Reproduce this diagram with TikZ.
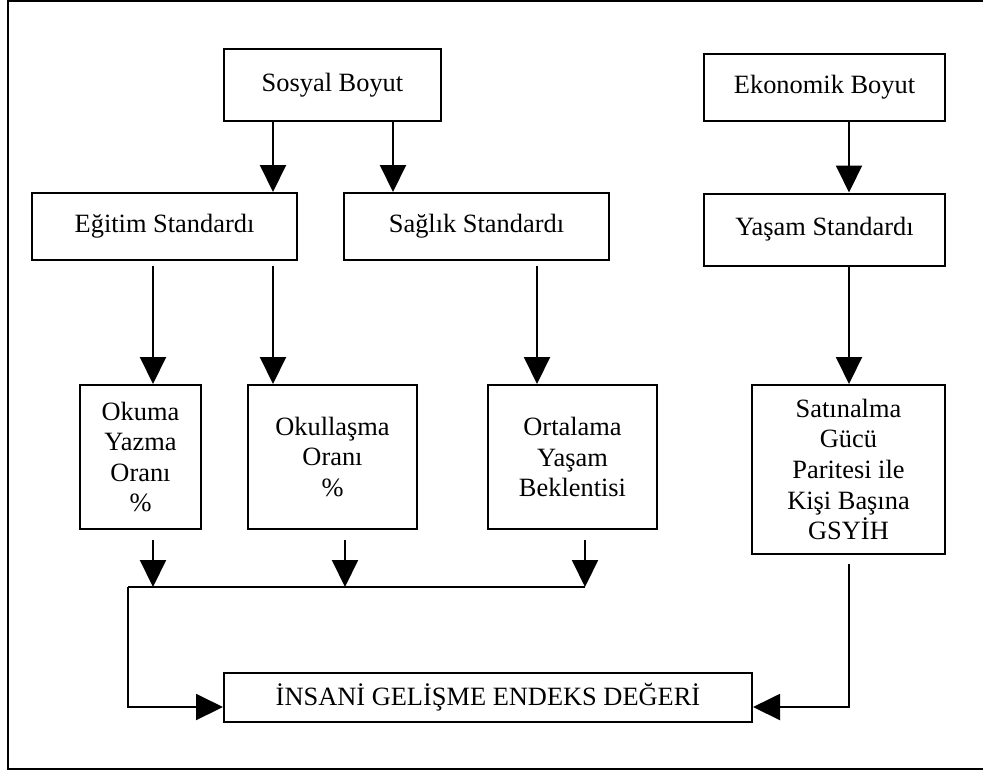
\documentclass[tikz,border=0pt]{standalone}
\usepackage{fontspec}
\setmainfont{Liberation Serif}
\usetikzlibrary{arrows.meta}
\begin{document}
\begin{tikzpicture}[x=0.5pt, y=-0.5pt,
  box/.style={draw, line width=1pt, inner sep=0pt, align=center, font=\fontsize{13.2}{15.3}\selectfont},
  arr/.style={line width=1pt, -{Triangle[width=13pt,length=13.5pt]}},
  lin/.style={line width=1pt}]
\useasboundingbox (0,0) rectangle (983,772);
\draw[lin] (983,1) -- (8,1) -- (8,769) -- (983,769);
% boxes
\node[box, minimum width=108.5pt, minimum height=36pt] (sosyal) at (332.5,85) {Sosyal Boyut};
\node[box, minimum width=120.5pt, minimum height=33.5pt] (ekonomik) at (824.5,87.5) {Ekonomik Boyut};
\node[box, minimum width=132.5pt, minimum height=33.5pt] (egitim) at (164.5,226.5) {Eğitim Standardı};
\node[box, minimum width=132.5pt, minimum height=33.5pt] (saglik) at (476.5,226.5) {Sağlık Standardı};
\node[box, minimum width=120.5pt, minimum height=36pt] (yasam) at (824.5,229.5) {Yaşam Standardı};
\node[box, minimum width=60.5pt, minimum height=72pt] (okuma) at (140.5,457) {Okuma\\Yazma\\Oranı\\\%};
\node[box, minimum width=84.5pt, minimum height=72pt] (okullasma) at (332.5,457) {Okullaşma\\Oranı\\\%};
\node[box, minimum width=84.5pt, minimum height=72pt] (ortalama) at (572.5,457) {Ortalama\\Yaşam\\Beklentisi};
\node[box, minimum width=96.5pt, minimum height=84.5pt] (satin) at (848.5,469.5) {Satınalma\\Gücü\\Paritesi ile\\Kişi Başına\\GSYİH};
\node[box, minimum width=264pt, minimum height=24.5pt] (insani) at (488,697.5) {İNSANİ GELİŞME ENDEKS DEĞERİ};
% columns of the arrows
\coordinate (xa) at (153,0);
\coordinate (xb) at (273,0);
\coordinate (xc) at (393,0);
\coordinate (xd) at (537,0);
\coordinate (xe) at (849,0);
\coordinate (xf) at (345,0);
\coordinate (xg) at (585,0);
\coordinate (bus) at (128,587);
\coordinate (low) at (0,707);
% top arrows
\draw[arr] (sosyal.south -| xb) -- (egitim.north -| xb);
\draw[arr] (sosyal.south -| xc) -- (saglik.north -| xc);
\draw[arr] (ekonomik.south -| xe) -- (yasam.north -| xe);
\draw[arr, shorten <=2.5pt] (egitim.south -| xa) -- (okuma.north -| xa);
\draw[arr, shorten <=2.5pt] (egitim.south -| xb) -- (okullasma.north -| xb);
\draw[arr, shorten <=2.5pt] (saglik.south -| xd) -- (ortalama.north -| xd);
\draw[arr] (yasam.south -| xe) -- (satin.north -| xe);
% lower arrows
\draw[arr, shorten <=5pt] (okuma.south -| xa) -- (bus -| xa);
\draw[arr, shorten <=5pt] (okullasma.south -| xf) -- (bus -| xf);
\draw[arr, shorten <=5pt] (ortalama.south -| xg) -- (bus -| xg);
\draw[lin] (bus) -- (bus -| xg);
\draw[arr] (bus) |- (insani.west |- low);
\draw[arr, shorten <=4.5pt] (satin.south -| xe) |- (insani.east |- low);
\end{tikzpicture}
\end{document}
